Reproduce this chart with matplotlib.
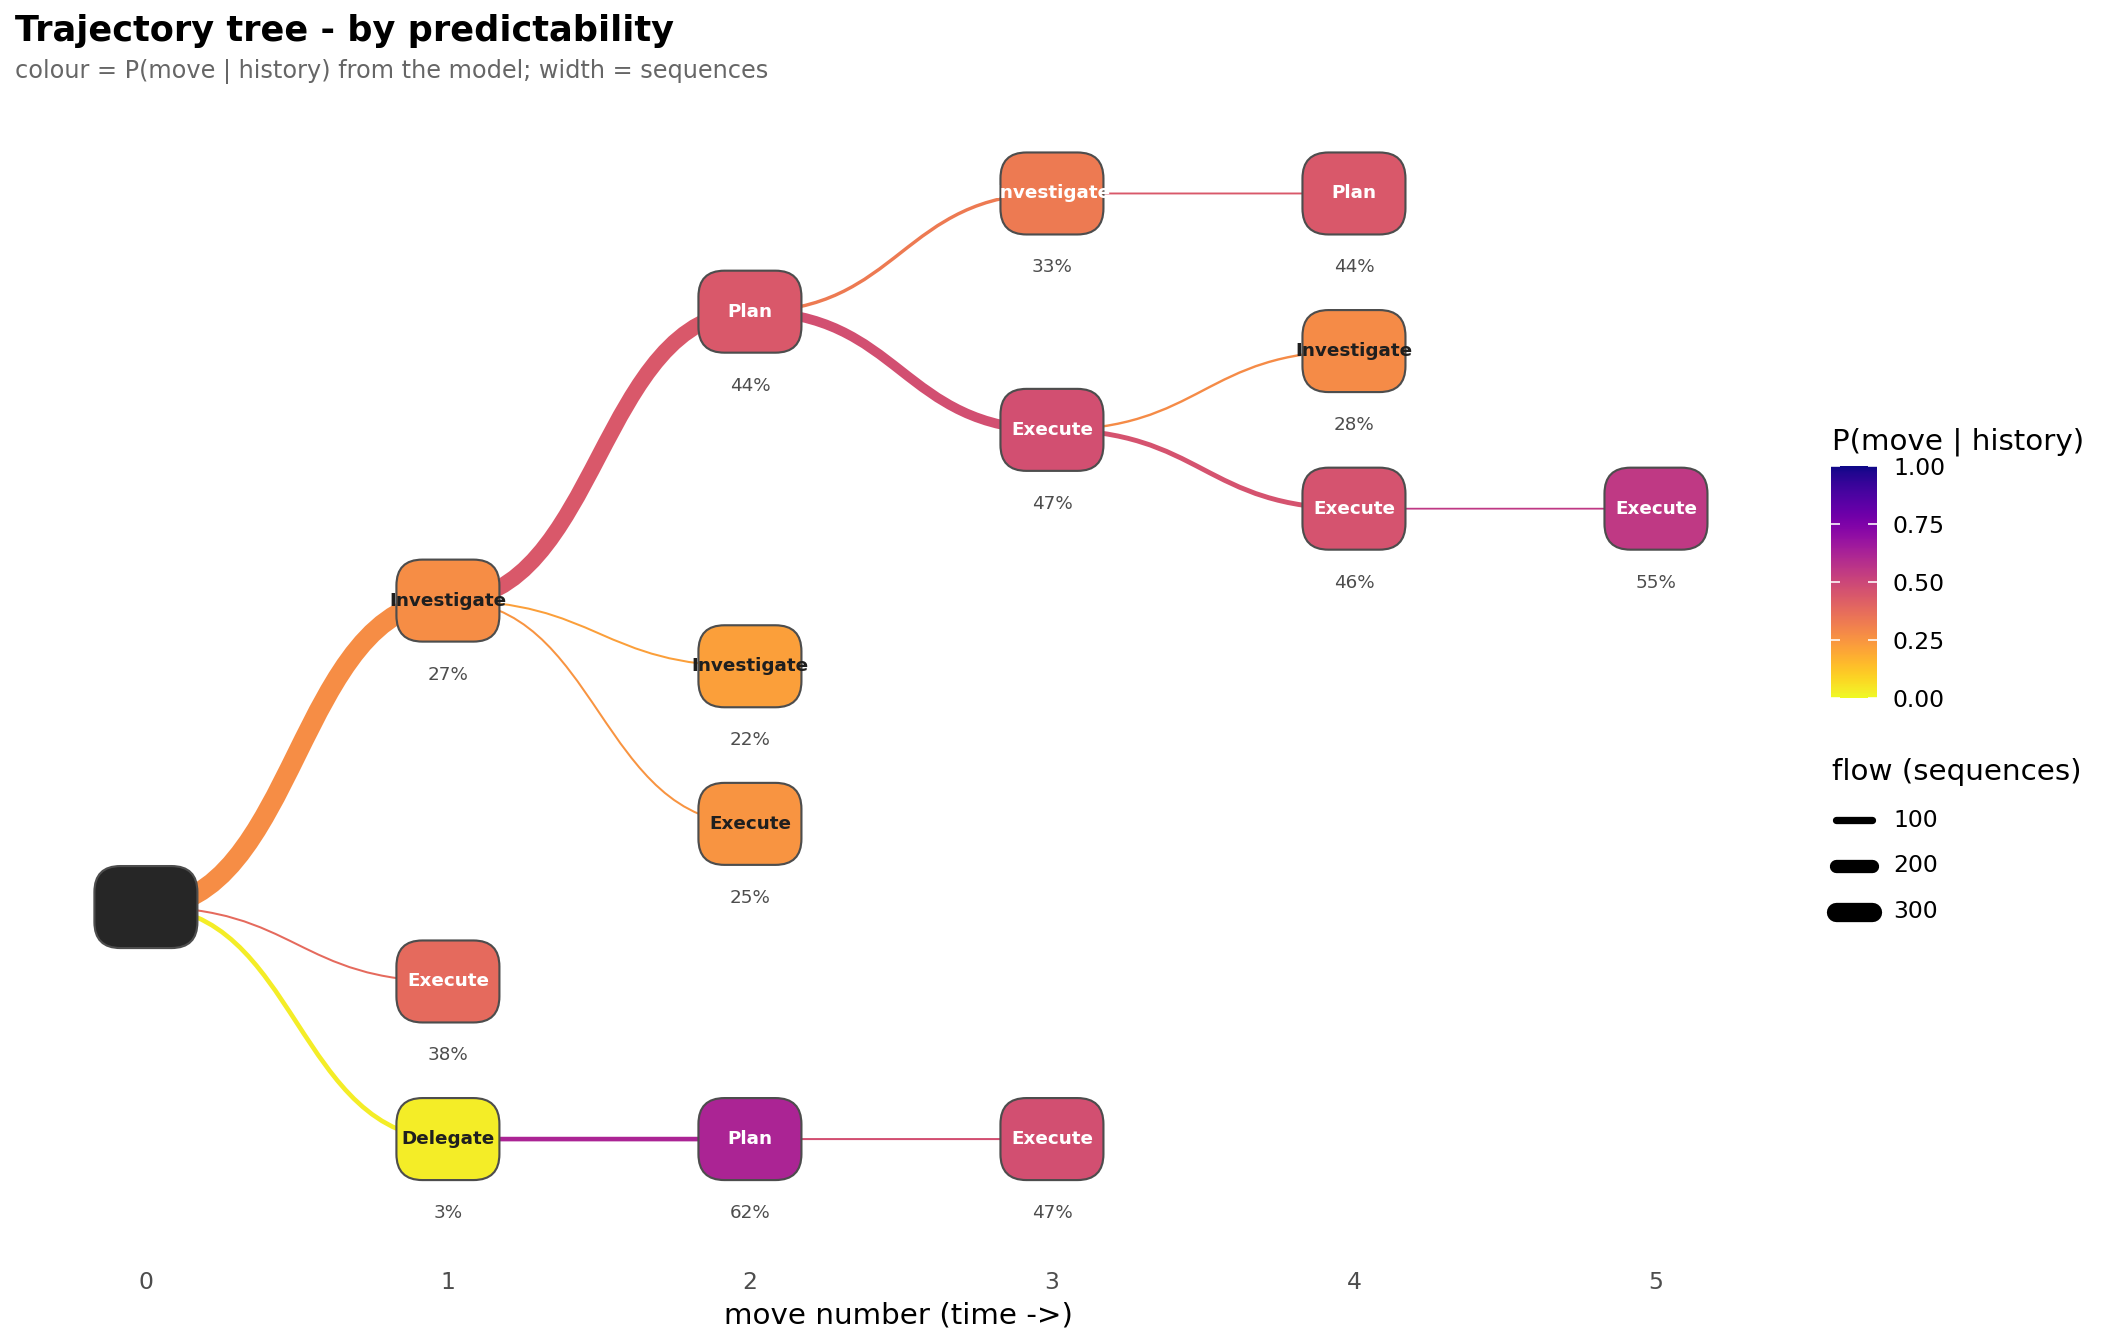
import numpy as np
import matplotlib
matplotlib.use("Agg")
import matplotlib.pyplot as plt
import matplotlib.colors as mcolors
from matplotlib.path import Path
from matplotlib.patches import PathPatch, FancyBboxPatch
from matplotlib.lines import Line2D

# --- tree data (node 0 is the start) ---
labels = ["", "Investigate", "Execute", "Delegate", "Plan", "Investigate", "Execute",
          "Plan", "Investigate", "Execute", "Execute", "Plan", "Investigate", "Execute", "Execute"]
depth = [0, 1, 1, 1, 2, 2, 2, 2, 3, 3, 3, 4, 4, 4, 5]
parent = [-1, 0, 0, 0, 1, 1, 1, 3, 4, 4, 7, 8, 9, 9, 13]
p_move = [np.nan, 0.27, 0.38, 0.03, 0.44, 0.22, 0.25, 0.62, 0.33, 0.47, 0.47, 0.44, 0.28, 0.46, 0.55]
flow = [np.nan, 310, 12, 55, 245, 12, 12, 55, 35, 140, 12, 10, 18, 60, 8]

legend_flows = [100, 200, 300]
cbar_ticks = [0.0, 0.25, 0.5, 0.75, 1.0]
move_ticks = [0, 1, 2, 3, 4, 5]

W, H, DPI = 2112, 1344, 192


def flow_lw(n):
    # linear width scale, pixels -> points
    return (1.3 + 0.06 * n) * 72 / DPI


# simple tidy layout: leaves get consecutive slots, parents sit at the mean of children
children = {i: [] for i in range(len(labels))}
for i, par in enumerate(parent):
    if par >= 0:
        children[par].append(i)

ypos = {}
slot = [0]


def place(i):
    if not children[i]:
        ypos[i] = slot[0]
        slot[0] += 1
    else:
        for c in children[i]:
            place(c)
        ypos[i] = np.mean([ypos[c] for c in children[i]])


place(0)

fig = plt.figure(figsize=(W / DPI, H / DPI), dpi=DPI)


def px_axes(l, t, r, b):
    return fig.add_axes([l / W, 1 - b / H, (r - l) / W, (b - t) / H])


ax = px_axes(10, 80, 1810, 1262)
xlim = (-0.45, 5.51)
ylim = (6.78, -0.72)
ax.set_xlim(*xlim)
ax.set_ylim(*ylim)
px_x = 1800 / (xlim[1] - xlim[0])
px_y = 1182 / (ylim[0] - ylim[1])

cmap = plt.cm.plasma_r
norm = mcolors.Normalize(vmin=0, vmax=1)

# --- edges: diagonal bezier from parent to child ---
for i in range(1, len(labels)):
    par = parent[i]
    x0, y0 = depth[par], ypos[par]
    x1, y1 = depth[i], ypos[i]
    xm = (x0 + x1) / 2
    path = Path([(x0, y0), (xm, y0), (xm, y1), (x1, y1)],
                [Path.MOVETO, Path.CURVE4, Path.CURVE4, Path.CURVE4])
    ax.add_patch(PathPatch(path, facecolor="none", edgecolor=cmap(norm(p_move[i])),
                           lw=flow_lw(flow[i]), capstyle="butt", zorder=1))

# --- nodes ---
bw = 103 / px_x
bh = 82 / px_y
for i in range(len(labels)):
    x, y = depth[i], ypos[i]
    if i == 0:
        fc = "#262626"
    else:
        fc = cmap(norm(p_move[i]))
    box = FancyBboxPatch((x - bw / 2, y - bh / 2), bw, bh,
                         boxstyle=f"round,pad=0,rounding_size={26 / px_x}",
                         mutation_aspect=px_x / px_y,
                         facecolor=fc, edgecolor="#4d4d4d", lw=0.8, zorder=3)
    ax.add_patch(box)
    if i == 0:
        continue
    tc = "white" if p_move[i] > 0.3 else "#1f1f1f"
    ax.text(x, y, labels[i], ha="center", va="center", fontsize=6.9,
            fontweight="bold", color=tc, zorder=4)
    ax.text(x, y + 74 / px_y, f"{p_move[i] * 100:.0f}%", ha="center", va="center",
            fontsize=6.9, color="#4d4d4d", zorder=4)

ax.set_xticks(move_ticks)
ax.set_yticks([])
ax.tick_params(axis="x", length=0, labelsize=8.8, labelcolor="#4d4d4d", pad=3.3)
for s in ax.spines.values():
    s.set_visible(False)
ax.set_xlabel("move number (time ->)", fontsize=11, labelpad=3)
ax.xaxis.label.set_x((898 - 10) / 1800)

fig.text(15 / W, 1 - 41 / H, "Trajectory tree - by predictability", fontsize=13.2,
         fontweight="bold", va="baseline")
fig.text(15 / W, 1 - 78 / H, "colour = P(move | history) from the model; width = sequences",
         fontsize=9, color="#666666", va="baseline")

# --- colour legend ---
cax = px_axes(1831, 466, 1877, 698)
sm = plt.cm.ScalarMappable(norm=norm, cmap=cmap)
cb = fig.colorbar(sm, cax=cax, ticks=cbar_ticks)
cb.outline.set_visible(False)
cb.set_ticklabels([f"{t:.2f}" for t in cbar_ticks])
cax.tick_params(axis="y", direction="in", length=3.5, width=0.6, color="white",
                left=True, right=True, labelleft=False, labelright=True,
                labelsize=8.8, pad=6)
fig.text(1832 / W, 1 - 450 / H, "P(move | history)", fontsize=11, va="baseline")

# --- width legend ---
fig.text(1832 / W, 1 - 780 / H, "flow (sequences)", fontsize=11, va="baseline")
for n, yy in zip(legend_flows, [820, 866, 912]):
    fig.add_artist(Line2D([1836 / W, 1872 / W], [1 - yy / H, 1 - yy / H],
                          lw=flow_lw(n), color="black", solid_capstyle="round",
                          transform=fig.transFigure))
    fig.text(1893 / W, 1 - yy / H, str(n), fontsize=8.8, va="center")

fig.savefig("out.png", dpi=DPI, facecolor="white")
